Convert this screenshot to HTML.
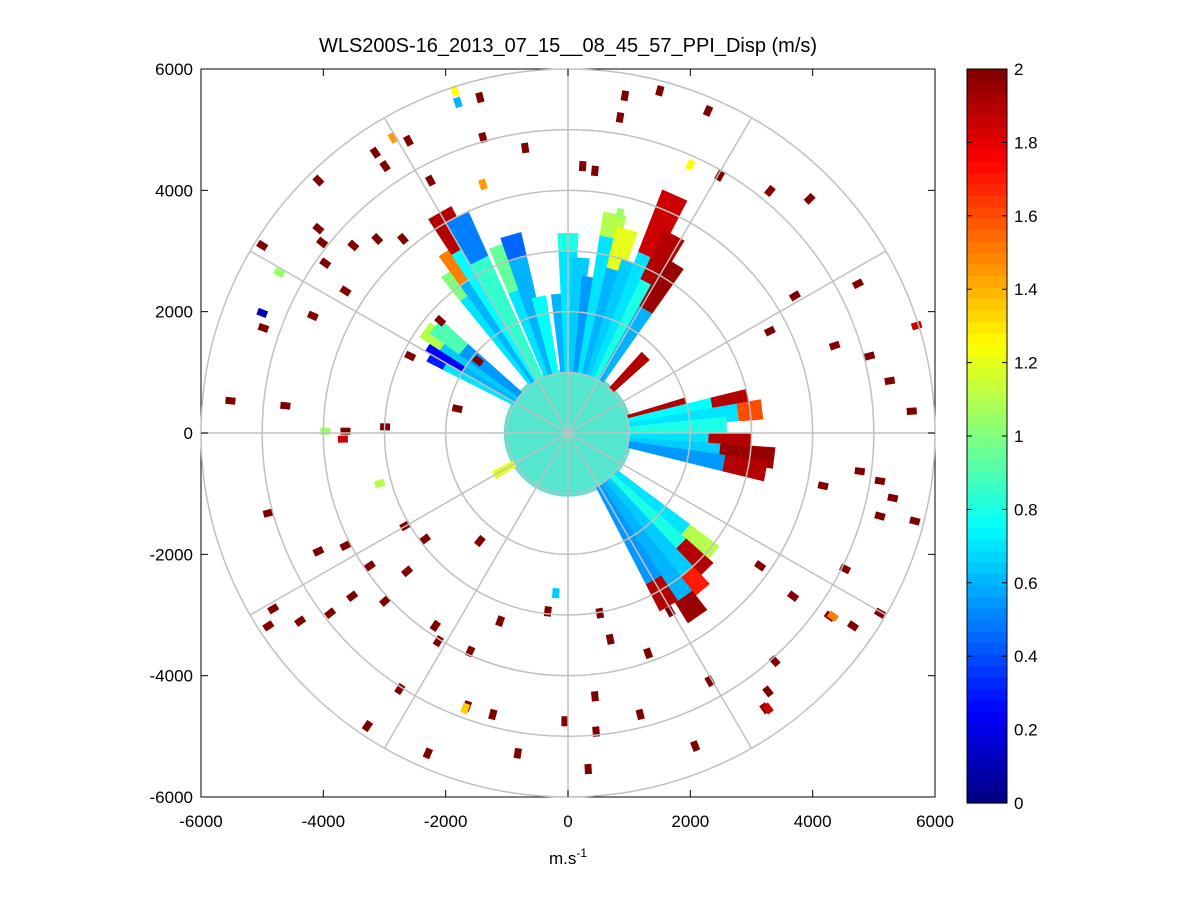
<!DOCTYPE html>
<html><head><meta charset="utf-8"><style>
body{margin:0;background:#fff;}
svg text{font-family:"Liberation Sans",sans-serif;}
</style></head><body>
<svg id="chart" width="1201" height="901" viewBox="0 0 1201 901">
<rect x="0" y="0" width="1201" height="901" fill="#fff"/>
<text x="568" y="52" font-size="20" text-anchor="middle">WLS200S-16_2013_07_15__08_45_57_PPI_Disp (m/s)</text>
<rect x="201" y="69" width="734" height="728" fill="#fff" stroke="#000" stroke-width="1"/>
<g id="data-layer"></g>
<g id="grid-layer"></g>
<g id="axes-layer"></g>
<g id="cbar-layer"></g>
<text x="568" y="864" font-size="17" text-anchor="middle">m.s<tspan dy="-7" font-size="12">-1</tspan></text>
</svg>
<script>
// axis tick labels
const xTicks=[-6000,-4000,-2000,0,2000,4000,6000];
const yTicks=[-6000,-4000,-2000,0,2000,4000,6000];
const cbarTicks=[0,0.2,0.4,0.6,0.8,1,1.2,1.4,1.6,1.8,2];
// radial beam segments: angle (deg), start radius, end radius, value
const beamAngle=[150,150,147,147,144,144,141,141,126,126,123,123,120,120,117,117,110,110,106,106,102,94,90,90,86,82,78,78,74,74,70,66,66,62,62,58,58,45,14,11,11,7,7,3,-3,-3,-7,-7,-11,-11,-40,-40,-45,-45,-50,-50,-55,-55,-60,-60,-150];
const beamR0=[1000,2300,1000,2000,1000,2500,1000,2200,1000,2800,1000,3000,1000,3500,1000,3200,1000,2500,1000,3000,1000,1000,1000,3000,1000,1000,1000,3300,1000,2800,1000,1000,3200,1000,2800,1000,2400,1000,1000,1000,2400,1000,2800,1000,1000,2300,1000,2500,1000,2600,1000,2500,1000,2600,1000,3000,1000,3300,1000,2800,1000];
const beamR1=[2300,2600,2000,2700,2500,2900,2200,2800,2800,3300,3000,3600,3500,4200,3200,4000,2500,3300,3000,3400,2300,2300,3000,3300,2900,2600,3300,3700,2800,3500,3000,3200,4300,2800,3700,2400,3300,1800,2000,2400,3000,2800,3200,2600,2300,3000,2500,3400,2600,3300,2500,3100,2600,3200,3000,3400,3300,3700,2800,3300,1400];
const beamVal=[0.7,0.3,0.6,0.25,0.65,1.1,0.55,0.9,0.7,1.0,0.6,1.5,0.75,1.9,0.85,0.5,0.7,0.95,0.6,0.45,0.75,0.6,0.7,0.8,0.65,0.55,0.7,1.1,0.6,1.2,0.65,0.7,1.85,0.8,1.9,0.6,1.95,1.9,1.9,0.75,1.9,0.7,1.6,0.8,0.7,1.9,0.65,1.95,0.55,1.9,0.7,1.1,0.8,1.9,0.65,1.7,0.6,1.95,0.55,1.9,1.2];
// scattered cells: x, y (m), value
const cellX=[1500,930,2290,850,-1440,-700,-1390,-2610,-2990,-3150,-4080,-2250,240,440,3300,3950,2480,-4080,-3510,-5000,-3970,-3120,-2700,-3640,-4170,-4980,-5520,-4620,-3640,-2990,3300,3710,4740,4360,4930,5260,5620,5100,4770,5310,5100,5670,4170,4530,5100,4660,4280,3680,3140,3380,3270,3220,2320,2080,1180,440,460,330,-50,-820,-1230,-1650,-2290,-2170,-2750,-3280,-2990,-3530,-3890,-4380,-4820,-4900,-4080,-4900,-3640,-3240,-2630,-2120,-1600,-1110,-330,520,690,1310,1670,-2660,-2340,-1440,-1810,-1470,-2580,-2090,-4020,-1850,-1800,-2860,-4720,-5000,-3970,-3680,-3080,-1680,-200,4330,3270,5700,2000,850,-1390];
const cellY=[5640,5560,5310,5200,5530,4700,4870,4820,4400,4620,4160,4160,4400,4320,3990,3860,4240,3370,3090,3090,2800,3200,3200,2340,1930,1730,530,450,30,100,1680,2260,2460,1440,1270,860,360,-790,-630,-1070,-1370,-1450,-870,-2240,-2970,-3180,-3020,-2690,-2190,-3760,-4260,-4540,-4090,-5160,-4640,-4340,-4920,-5540,-4750,-5280,-4640,-4500,-5280,-3180,-4220,-4830,-2770,-2690,-2970,-3100,-2900,-3180,-1950,-1320,-1860,-2190,-2280,-3430,-3600,-3100,-2940,-2970,-3400,-3630,-2940,-1530,-1750,-1780,400,1190,1270,1850,3140,5640,5450,4870,2640,1980,30,-100,-830,-4540,-2640,-3020,-4540,1770,4420,3620,4100];
const cellVal=[2,2,2,2,2,2,2,2,2,2,2,2,2,2,2,2,2,2,2,2,2,2,2,2,2,2,2,2,2,2,2,2,2,2,2,2,2,2,2,2,2,2,2,2,2,2,2,2,2,2,2,2,2,2,2,2,2,2,2,2,2,2,2,2,2,2,2,2,2,2,2,2,2,2,2,2,2,2,2,2,2,2,2,2,2,2,2,2,2,2,2,2,2,1.25,0.6,1.45,1.05,0.1,1.05,1.85,1.1,1.35,0.65,1.5,1.85,1.85,1.25,1.05,1.45];

const NS="http://www.w3.org/2000/svg";
const X0=201,X1=935,Y0=69,Y1=797;
function sx(v){return X0+(v+6000)/12000*(X1-X0);}
function sy(v){return Y1-(v+6000)/12000*(Y1-Y0);}
function jet(v){let t=Math.max(0,Math.min(1,v/2));
 function c(x){return Math.round(255*Math.max(0,Math.min(1,x)));}
 const r=c(1.5-Math.abs(4*t-3)),g=c(1.5-Math.abs(4*t-2)),b=c(1.5-Math.abs(4*t-1));
 return `rgb(${r},${g},${b})`;}
function mk(tag,attrs,parent){const e=document.createElementNS(NS,tag);for(const k in attrs)e.setAttribute(k,attrs[k]);parent.appendChild(e);return e;}
const data=document.getElementById('data-layer');
// center disk
const disk=mk('ellipse',{cx:sx(0),cy:sy(0),rx:sx(1050)-sx(0),ry:sy(0)-sy(1050),fill:'#55e6cf'},data);


// beams
const hw=3;
for(let i=0;i<beamAngle.length;i++){
 const a0=(beamAngle[i]-hw)*Math.PI/180,a1=(beamAngle[i]+hw)*Math.PI/180,r0=beamR0[i],r1=beamR1[i];
 const pts=[[r0,a0],[r1,a0],[r1,a1],[r0,a1]].map(p=>sx(p[0]*Math.cos(p[1])).toFixed(1)+','+sy(p[0]*Math.sin(p[1])).toFixed(1)).join(' ');
 const p=mk('polygon',{points:pts,fill:jet(beamVal[i])},data);
 
 
}
// scattered cells
for(let i=0;i<cellX.length;i++){
 const cx=sx(cellX[i]),cy=sy(cellY[i]);
 const ang=-Math.atan2(cellY[i],cellX[i])*180/Math.PI;
 const r=mk('rect',{x:cx-5,y:cy-3.5,width:10,height:7,fill:jet(cellVal[i]),transform:`rotate(${ang.toFixed(1)} ${cx.toFixed(1)} ${cy.toFixed(1)})`},data);
 
 
}
// grid
const grid=document.getElementById('grid-layer');
for(let k=1;k<=6;k++){
 const c=mk('ellipse',{cx:sx(0),cy:sy(0),rx:sx(k*1000)-sx(0),ry:sy(0)-sy(k*1000),fill:'none',stroke:'#c0c0c0','stroke-width':1.5},grid);
 
 
}
for(let a=0;a<360;a+=30){
 const t=a*Math.PI/180;
 const l=mk('line',{x1:sx(0),y1:sy(0),x2:sx(6000*Math.cos(t)),y2:sy(6000*Math.sin(t)),stroke:'#c0c0c0','stroke-width':1.5},grid);
 
 
}
// axes ticks
const ax=document.getElementById('axes-layer');
xTicks.forEach(v=>{const x=sx(v);
 mk('line',{x1:x,y1:Y1,x2:x,y2:Y1-7,stroke:'#000'},ax);mk('line',{x1:x,y1:Y0,x2:x,y2:Y0+7,stroke:'#000'},ax);
 const t=mk('text',{x:x,y:827,'font-size':17,'text-anchor':'middle'},ax);t.textContent=v;
 
 });
yTicks.forEach(v=>{const y=sy(v);
 mk('line',{x1:X0,y1:y,x2:X0+7,y2:y,stroke:'#000'},ax);mk('line',{x1:X1,y1:y,x2:X1-7,y2:y,stroke:'#000'},ax);
 const t=mk('text',{x:193,y:y+6,'font-size':17,'text-anchor':'end'},ax);t.textContent=v;
 
 });
// colorbar
const cb=document.getElementById('cbar-layer');
const CX=967,CW=40,CT=69,CB=803,N=64;
for(let i=0;i<N;i++){const h=(CB-CT)/N;
 mk('rect',{x:CX,y:(CB-(i+1)*h).toFixed(2),width:CW,height:(h+0.6).toFixed(2),fill:jet((i+0.5)/N*2)},cb);}
mk('rect',{x:CX,y:CT,width:CW,height:CB-CT,fill:'none',stroke:'#000'},cb);
cbarTicks.forEach(v=>{const y=CB-v/2*(CB-CT);
 mk('line',{x1:CX,y1:y,x2:CX+5,y2:y,stroke:'#000'},cb);mk('line',{x1:CX+CW,y1:y,x2:CX+CW-5,y2:y,stroke:'#000'},cb);
 const t=mk('text',{x:1014,y:y+6,'font-size':17},cb);t.textContent=v;
 
 });
</script>
</body></html>
